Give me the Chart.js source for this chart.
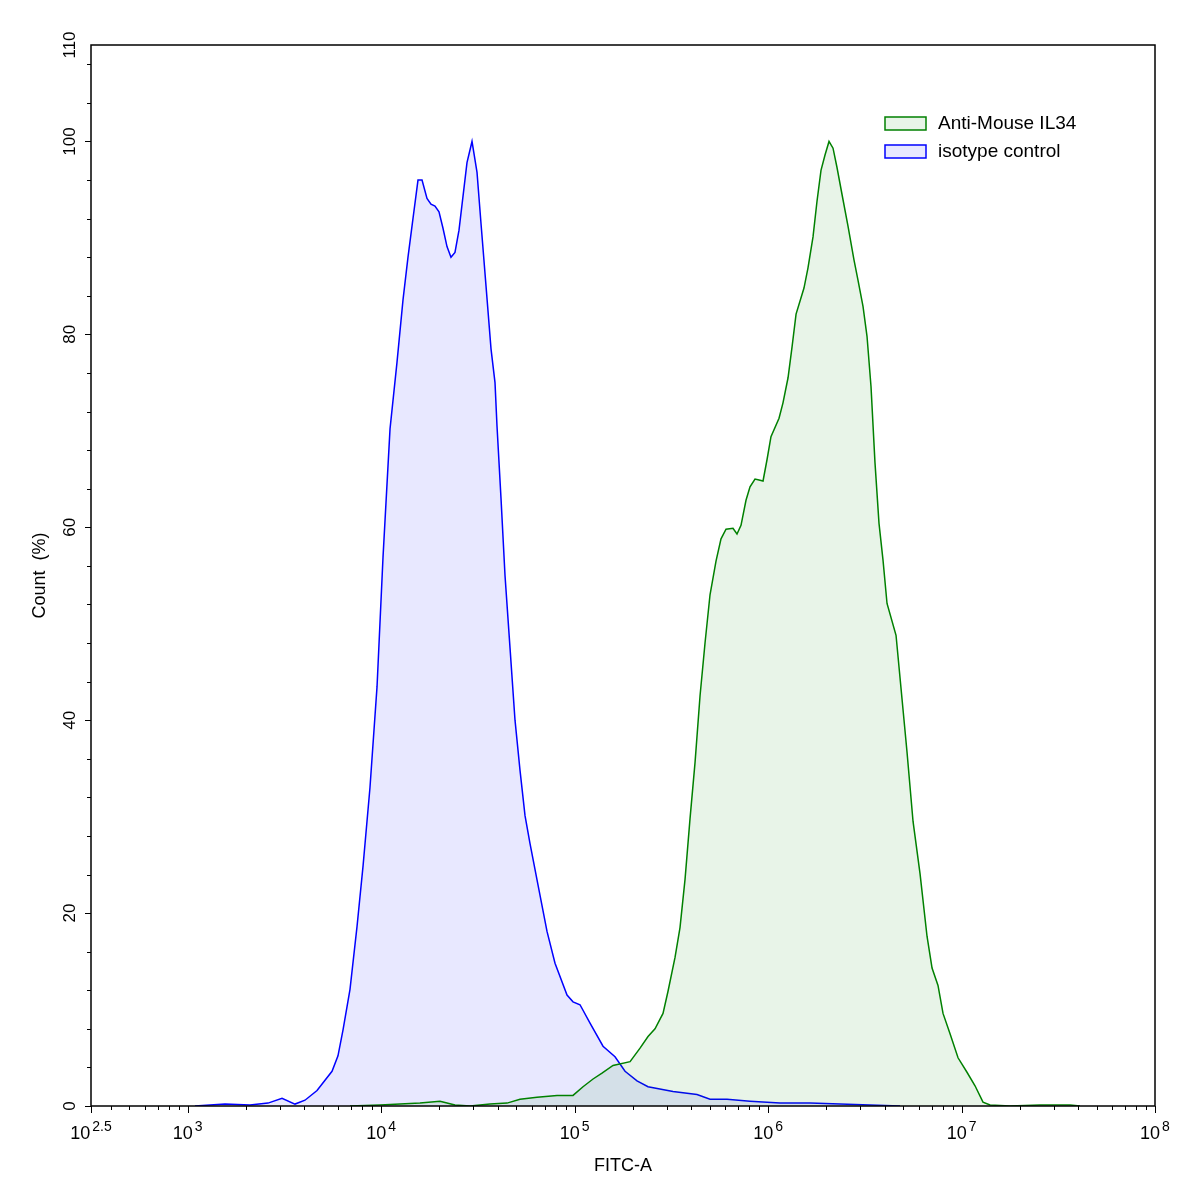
<!DOCTYPE html>
<html>
<head>
<meta charset="utf-8">
<script src="https://cdn.jsdelivr.net/npm/chart.js@4.4.1/dist/chart.umd.min.js"></script>
<style>
  html, body { margin: 0; padding: 0; background: #fff; }
  #wrap { width: 1197px; height: 1193px; position: relative; }
</style>
</head>
<body>
<div id="wrap"><canvas id="histChart"></canvas></div>
<script>
        const lineBlue = '#0000ff';
        const lineGreen = '#008000';
        const fillBlue = 'rgba(0, 0, 255, 0.09)';
        const fillGreen = 'rgba(0, 128, 0, 0.09)';
        const fontFamily = '"Liberation Sans", Arial, sans-serif';

        const seriesNames = ['Anti-Mouse IL34', 'isotype control'];

        // isotype control (blue)
        const fitcBlue = [1090, 1558, 2098, 2600, 3072, 3585, 4038, 4660, 5570, 5980, 6350, 6900, 7500, 8060, 8750, 9520,
            10220, 11110, 12070, 12970, 13760, 14600, 15500, 16260, 17250, 18090, 18970, 19900, 20870, 21890, 22950,
            24070, 25250, 26480, 27770, 29480, 31290, 32810, 34830, 36960, 38760, 39690, 41630, 43660, 46340, 49180,
            52200, 55400, 58800, 64690, 71980, 79180, 91330, 98080, 106600, 120100, 140200, 161700, 182200, 210100,
            239500, 322500, 429100, 501000, 613400, 806500, 1153000, 1647000, 2354000, 3364000, 4808000];
        const countBlue = [0, 0.2, 0.1, 0.3, 0.8, 0.2, 0.6, 1.6, 3.6, 5.2, 7.9, 12.1, 18.6, 24.9, 33, 43.5,
            56.9, 70.2, 77.1, 83.6, 88, 92, 96, 96, 94.1, 93.5, 93.3, 92.7, 91, 89.1, 88,
            88.5, 90.8, 94.3, 97.8, 100, 96.8, 91.5, 85, 78.5, 75, 70.5, 63, 55, 47.5, 40,
            34.8, 30.1, 27.2, 22.9, 18.1, 14.8, 11.5, 10.8, 10.5, 8.6, 6.2, 5.1, 3.6, 2.6,
            2.0, 1.5, 1.2, 0.7, 0.7, 0.5, 0.3, 0.3, 0.2, 0.1, 0];

        // Anti-Mouse IL34 (green)
        const fitcGreen = [6900, 9860, 12510, 15870, 20140, 24070, 28790, 36530, 44720, 52200, 63920, 81080, 98080,
            110500, 124500, 138500, 157900, 193400, 217800, 239500, 260300, 286300, 303900, 330300, 350500, 372100,
            394900, 419100, 444800, 472100, 501000, 538000, 571000, 606100, 658600, 690700, 724400, 768800, 806500,
            855800, 897600, 941500, 987200, 1035000, 1139000, 1194000, 1268000, 1330000, 1395000, 1533000, 1608000,
            1707000, 1790000, 1877000, 1969000, 2065000, 2166000, 2271000, 2411000, 2590000, 2781000, 2917000,
            3095000, 3246000, 3404000, 3569000, 3744000, 3927000, 4119000, 4585000, 4924000, 5225000, 5614000,
            6101000, 6630000, 7039000, 7556000, 8022000, 8720000, 9590000, 10670000, 11740000, 12910000, 14040000,
            17810000, 25450000, 36370000, 40960000];
        const countGreen = [0, 0.1, 0.2, 0.3, 0.5, 0.1, 0, 0.2, 0.3, 0.7, 0.9, 1.1, 1.1,
            2.0, 2.8, 3.4, 4.2, 4.6, 6.0, 7.2, 8.0, 9.6, 11.9, 15.4, 18.5, 23.5,
            29.8, 35.6, 42.5, 48, 53, 56.5, 58.8, 59.8, 59.9, 59.3, 60.2, 62.8, 64.2,
            65, 64.9, 64.8, 67, 69.4, 71.3, 72.9, 75.5, 78.7, 82.1, 84.8, 86.9,
            90.1, 93.8, 97, 98.6, 100, 99.3, 97.3, 94.5, 91.2, 87.7, 85.6,
            82.9, 79.8, 74.6, 66.7, 60.4, 56.6, 52.1, 48.8, 42.2, 36.7, 29.5,
            24.1, 17.6, 14.3, 12.5, 9.6, 7.5, 5.0, 3.5, 2.1, 0.4, 0.1,
            0, 0.1, 0.1, 0];

        // axis ticks
        const xTickExponents = ['2.5', '3', '4', '5', '6', '7', '8'];
        const xMin = Math.pow(10, 2.5);
        const xMax = 1e8;
        const yTickLabels = [0, 20, 40, 60, 80, 100, 110];
        const yMinorStep = 4;
        const yMin = 0;
        const yMax = 110;

        function toPoints(xs, ys) {
            return xs.map(function(x, i) { return { x: x, y: ys[i] }; });
        }

        // axes, frame, labels and legend drawn by hand (FlowJo style)
        const axesPlugin = {
            id: 'flowAxes',
            afterDraw: function(chart) {
                const ctx = chart.ctx;
                const area = chart.chartArea;
                const xs = chart.scales.x;
                const ys = chart.scales.y;
                ctx.save();
                ctx.strokeStyle = '#000';
                ctx.fillStyle = '#000';
                ctx.lineWidth = 1.5;
                ctx.strokeRect(area.left, area.top, area.right - area.left, area.bottom - area.top);

                // x ticks
                ctx.lineWidth = 1;
                const xTicks = [{ v: xMin, major: true }];
                for (let e = 2; e <= 8; e++) {
                    for (let m = 1; m <= 9; m++) {
                        const v = m * Math.pow(10, e);
                        if (v < xMin || v > xMax * 1.0001) continue;
                        xTicks.push({ v: v, major: m === 1 });
                    }
                }
                xTicks.forEach(function(t) {
                    const px = Math.round(xs.getPixelForValue(t.v)) + 0.5;
                    ctx.beginPath();
                    ctx.moveTo(px, area.bottom);
                    ctx.lineTo(px, area.bottom + (t.major ? 7 : 4));
                    ctx.stroke();
                });
                ctx.textBaseline = 'alphabetic';
                ctx.textAlign = 'left';
                xTickExponents.forEach(function(exp) {
                    const px = xs.getPixelForValue(Math.pow(10, parseFloat(exp)));
                    ctx.font = '18px ' + fontFamily;
                    const w1 = ctx.measureText('10').width;
                    ctx.font = '14px ' + fontFamily;
                    const w2 = ctx.measureText(exp).width;
                    const left = px - (w1 + 2 + w2) / 2;
                    ctx.font = '18px ' + fontFamily;
                    ctx.fillText('10', left, area.bottom + 33);
                    ctx.font = '14px ' + fontFamily;
                    ctx.fillText(exp, left + w1 + 2, area.bottom + 25);
                });

                // y ticks
                for (let v = yMin; v <= yMax; v += yMinorStep) {
                    const py = Math.round(ys.getPixelForValue(v)) + 0.5;
                    const major = yTickLabels.indexOf(v) >= 0;
                    ctx.beginPath();
                    ctx.moveTo(area.left, py);
                    ctx.lineTo(area.left - (major ? 6 : 4), py);
                    ctx.stroke();
                }
                ctx.font = '17px ' + fontFamily;
                ctx.textAlign = 'center';
                yTickLabels.forEach(function(v) {
                    const py = ys.getPixelForValue(v);
                    ctx.save();
                    ctx.translate(area.left - 16, py);
                    ctx.rotate(-Math.PI / 2);
                    ctx.fillText(String(v), 0, 0);
                    ctx.restore();
                });

                // axis titles
                ctx.font = '18px ' + fontFamily;
                ctx.fillText('FITC-A', (area.left + area.right) / 2, area.bottom + 65);
                ctx.save();
                ctx.translate(45, (area.top + area.bottom) / 2);
                ctx.rotate(-Math.PI / 2);
                ctx.fillText('Count  (%)', 0, 0);
                ctx.restore();

                // legend
                const legendFills = [fillGreen, fillBlue];
                const legendLines = [lineGreen, lineBlue];
                ctx.textAlign = 'left';
                ctx.textBaseline = 'middle';
                seriesNames.forEach(function(name, i) {
                    const top = 117 + i * 28;
                    ctx.fillStyle = '#fff';
                    ctx.fillRect(885, top, 41, 13);
                    ctx.fillStyle = legendFills[i];
                    ctx.fillRect(885, top, 41, 13);
                    ctx.strokeStyle = legendLines[i];
                    ctx.lineWidth = 1.5;
                    ctx.strokeRect(885, top, 41, 13);
                    ctx.fillStyle = '#000';
                    ctx.font = '19px ' + fontFamily;
                    ctx.fillText(name, 938, top + 7);
                });
                ctx.restore();
            }
        };

        const ctx = document.getElementById('histChart').getContext('2d');
        new Chart(ctx, {
            type: 'scatter',
            data: {
                datasets: [
                    {
                        label: seriesNames[0],
                        data: toPoints(fitcGreen, countGreen),
                        showLine: true,
                        borderColor: lineGreen,
                        backgroundColor: fillGreen,
                        borderWidth: 1.5,
                        pointRadius: 0,
                        tension: 0,
                        fill: 'origin'
                    },
                    {
                        label: seriesNames[1],
                        data: toPoints(fitcBlue, countBlue),
                        showLine: true,
                        borderColor: lineBlue,
                        backgroundColor: fillBlue,
                        borderWidth: 1.5,
                        pointRadius: 0,
                        tension: 0,
                        fill: 'origin'
                    }
                ]
            },
            options: {
                responsive: true,
                maintainAspectRatio: false,
                animation: false,
                layout: { padding: { left: 91, right: 42, top: 45, bottom: 87 } },
                scales: {
                    x: { type: 'logarithmic', min: xMin, max: xMax, display: false },
                    y: { type: 'linear', min: yMin, max: yMax, display: false }
                },
                plugins: {
                    legend: { display: false },
                    tooltip: { enabled: false }
                }
            },
            plugins: [axesPlugin]
        });
</script>
</body>
</html>
